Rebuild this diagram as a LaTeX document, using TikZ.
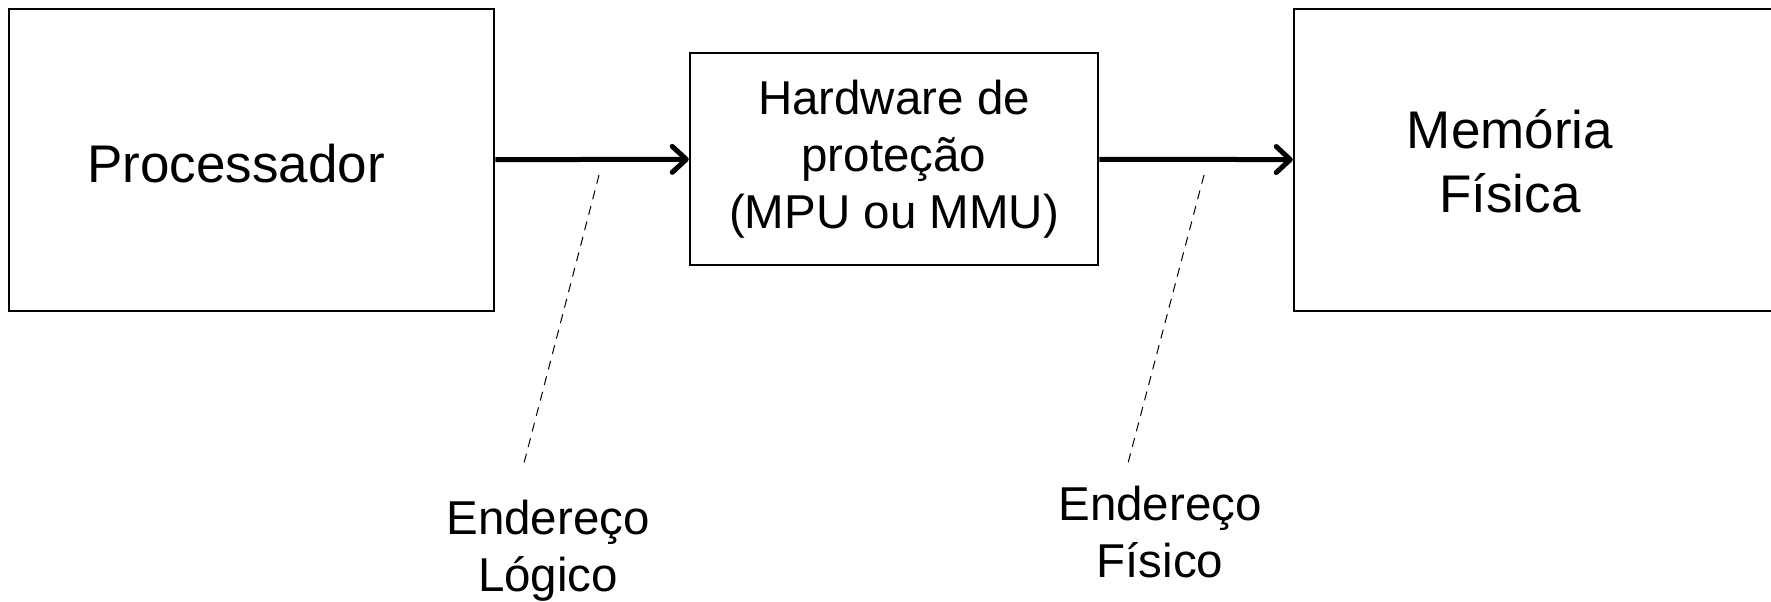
\documentclass[tikz,border=0pt]{standalone}
\usepackage{fontspec}
\setmainfont{Liberation Sans}
\usetikzlibrary{arrows.meta}
\begin{document}
\begin{tikzpicture}[x=0.5pt,y=-0.5pt,
  boxnode/.style={draw,line width=1.25pt,inner sep=0pt,align=center},
  bigtxt/.style={inner sep=0pt,align=center,font=\fontsize{26.5}{32}\selectfont},
  midtxt/.style={inner sep=0pt,align=center,font=\fontsize{23.75}{28.5}\selectfont},
  flow/.style={line width=2.5pt,-{Straight Barb[length=7pt,width=13pt,round]}},
  pointer/.style={line width=0.5pt,dash pattern=on 4.5pt off 3.5pt}]
\useasboundingbox (0,0) rectangle (1771,601);
\clip (0,0) rectangle (1771,601);
\node[boxnode,minimum width=242.5pt,minimum height=151pt] (proc) at (251.5,160) {};
\node[bigtxt] (proctxt) at (236,164) {Processador};
\node[boxnode,midtxt,minimum width=204pt,minimum height=106pt] (mpu) at (894,159) {Hardware de\\prote\c{c}\~ao\\(MPU ou MMU)};
\node[boxnode,minimum width=300pt,minimum height=151pt] (mem) at (1594,160) {};
\node[bigtxt] (memtxt) at (1510,161) {Mem\'oria\\F\'isica};
\draw[flow] (proc) -- (mpu);
\draw[flow] (mpu) -- (mem);
\node[midtxt] (logico) at (548,551) {Endere\c{c}o\\L\'ogico};
\node[midtxt] (fisico) at (1160,532) {Endere\c{c}o\\F\'isico};
\coordinate (l1) at (599,175);
\coordinate (l2) at (524,463);
\coordinate (f1) at (1204,175);
\coordinate (f2) at (1128,463);
\draw[pointer] (l1) -- (l2);
\draw[pointer] (f1) -- (f2);
\end{tikzpicture}
\end{document}
